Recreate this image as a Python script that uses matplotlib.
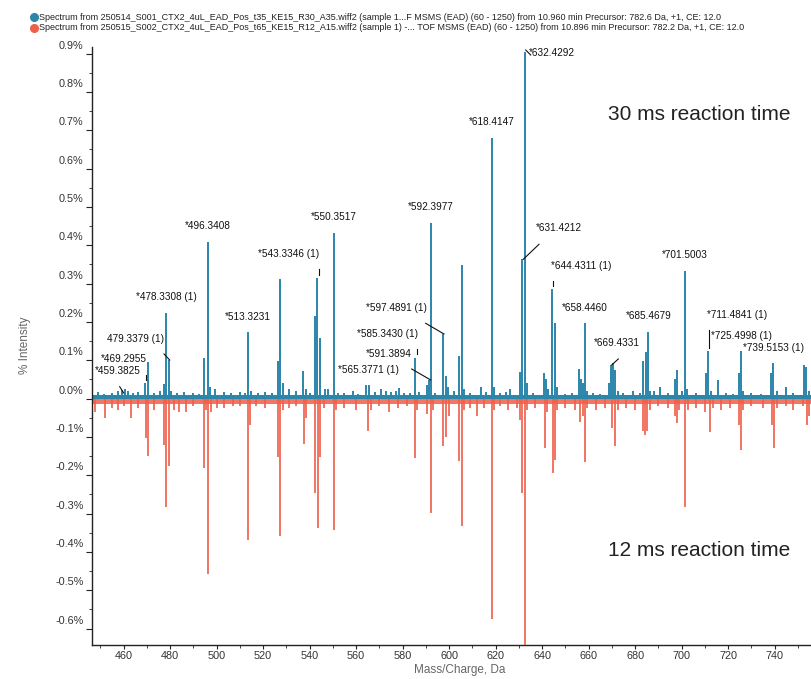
import matplotlib
matplotlib.use('Agg')
import matplotlib.pyplot as plt
from matplotlib.lines import Line2D
import matplotlib.transforms as mtransforms
from matplotlib.ticker import MultipleLocator, FuncFormatter

# ---------------- data ----------------
blue_mz = [449.0, 451.5, 455.0, 457.5, 459.38, 460.5, 462.0, 464.0, 466.0, 469.30, 470.3, 473.0,
           475.5, 477.3, 478.33, 479.34, 480.3, 483.0, 486.0, 490.0, 492.5, 494.5, 496.34, 497.3,
           499.5, 503.0, 506.0, 510.0, 512.0, 513.32, 515.0, 518.0, 521.0, 524.0, 526.3, 527.4,
           528.4, 531.0, 534.0, 537.3, 538.4, 540.0, 542.3, 543.33, 544.3, 546.5, 548.0, 550.35,
           552.0, 555.0, 558.5, 561.0, 564.3, 565.38, 568.0, 570.5, 573.0, 575.0, 577.0, 578.4,
           580.5, 583.0, 585.34, 587.0, 590.4, 591.39, 592.40, 594.0, 597.49, 598.5, 599.5, 602.0,
           604.4, 605.5, 606.5, 609.0, 613.5, 616.0, 618.41, 619.5, 622.0, 624.5, 626.4, 630.4,
           631.42, 632.43, 633.4, 636.0, 640.6, 641.6, 642.6, 644.43, 645.5, 646.6, 650.0, 653.0,
           655.7, 656.7, 657.5, 658.45, 659.5, 662.0, 665.0, 668.6, 669.43, 670.4, 671.5, 672.5,
           675.0, 679.0, 682.0, 683.5, 684.6, 685.47, 686.6, 688.0, 690.5, 694.0, 697.3, 698.2,
           700.0, 701.50, 702.5, 706.0, 710.5, 711.48, 712.5, 715.8, 719.0, 722.0, 724.5, 725.50,
           726.5, 730.0, 734.0, 738.5, 739.52, 741.0, 744.8, 748.0, 752.7, 753.6, 755.0]
blue_int = [0.018, 0.012, 0.015, 0.020, 0.022, 0.025, 0.020, 0.015, 0.018, 0.041, 0.096, 0.015,
            0.020, 0.039, 0.224, 0.100, 0.020, 0.015, 0.018, 0.015, 0.012, 0.107, 0.408, 0.030,
            0.025, 0.018, 0.015, 0.018, 0.015, 0.173, 0.020, 0.015, 0.018, 0.015, 0.098, 0.312,
            0.040, 0.025, 0.020, 0.073, 0.025, 0.015, 0.214, 0.315, 0.159, 0.025, 0.025, 0.432,
            0.015, 0.015, 0.020, 0.012, 0.035, 0.035, 0.018, 0.025, 0.020, 0.018, 0.020, 0.028,
            0.015, 0.015, 0.107, 0.018, 0.034, 0.049, 0.457, 0.015, 0.168, 0.060, 0.030, 0.020,
            0.111, 0.348, 0.025, 0.015, 0.030, 0.018, 0.680, 0.030, 0.015, 0.018, 0.025, 0.070,
            0.363, 0.905, 0.040, 0.015, 0.066, 0.050, 0.025, 0.285, 0.196, 0.030, 0.012, 0.015,
            0.078, 0.050, 0.040, 0.198, 0.020, 0.015, 0.012, 0.040, 0.087, 0.092, 0.074, 0.020,
            0.015, 0.020, 0.015, 0.099, 0.122, 0.174, 0.020, 0.020, 0.030, 0.015, 0.050, 0.074,
            0.020, 0.332, 0.025, 0.015, 0.067, 0.123, 0.020, 0.048, 0.015, 0.012, 0.067, 0.124,
            0.020, 0.015, 0.012, 0.066, 0.092, 0.020, 0.030, 0.015, 0.087, 0.083, 0.020]

red_mz = [447.5, 452.2, 455.0, 457.5, 460.0, 463.1, 466.0, 469.7, 470.3, 473.0, 477.5, 478.4,
          479.4, 481.5, 484.0, 487.0, 490.0, 494.5, 495.3, 496.3, 497.5, 500.0, 503.0, 507.0,
          510.0, 513.3, 514.3, 517.0, 521.0, 526.2, 527.4, 528.4, 531.0, 534.0, 537.4, 538.5,
          542.3, 543.4, 544.4, 546.0, 550.4, 551.5, 555.0, 560.0, 565.3, 566.3, 570.0, 574.0,
          578.0, 582.0, 585.2, 586.3, 590.5, 592.2, 593.2, 597.5, 598.5, 600.0, 604.3, 605.4,
          606.5, 609.0, 612.0, 615.0, 618.4, 619.5, 622.0, 625.5, 629.0, 630.5, 631.5, 632.5,
          633.5, 637.0, 641.3, 642.2, 644.6, 645.6, 646.6, 650.0, 654.0, 656.5, 657.5, 658.5,
          659.5, 663.0, 667.0, 670.0, 671.5, 672.5, 676.0, 680.0, 683.4, 684.3, 685.2, 686.5,
          690.0, 694.0, 697.0, 698.0, 699.0, 701.6, 702.6, 706.0, 710.0, 712.1, 713.5, 717.0,
          721.0, 724.5, 725.6, 726.5, 730.0, 735.0, 738.8, 739.9, 741.0, 745.0, 748.0, 752.0,
          753.9, 754.8]
red_int = [-0.034, -0.050, -0.025, -0.030, -0.020, -0.052, -0.025, -0.104, -0.149, -0.030, -0.120, -0.282,
           -0.175, -0.030, -0.035, -0.035, -0.020, -0.180, -0.030, -0.458, -0.035, -0.025, -0.025, -0.020,
           -0.020, -0.369, -0.070, -0.020, -0.025, -0.152, -0.359, -0.030, -0.025, -0.020, -0.119, -0.050,
           -0.247, -0.339, -0.153, -0.025, -0.343, -0.030, -0.025, -0.030, -0.085, -0.030, -0.020, -0.035,
           -0.025, -0.020, -0.156, -0.030, -0.040, -0.298, -0.030, -0.124, -0.100, -0.045, -0.163, -0.332,
           -0.030, -0.025, -0.045, -0.025, -0.576, -0.030, -0.020, -0.030, -0.025, -0.055, -0.246, -0.670,
           -0.030, -0.025, -0.128, -0.035, -0.195, -0.161, -0.030, -0.025, -0.030, -0.060, -0.045, -0.165,
           -0.025, -0.030, -0.025, -0.078, -0.124, -0.030, -0.025, -0.030, -0.086, -0.095, -0.086, -0.030,
           -0.020, -0.025, -0.045, -0.065, -0.030, -0.282, -0.030, -0.025, -0.035, -0.088, -0.025, -0.030,
           -0.025, -0.070, -0.134, -0.030, -0.020, -0.025, -0.070, -0.130, -0.025, -0.020, -0.030, -0.020,
           -0.070, -0.045]

peak_labels = ["*459.3825", "*469.2955", "479.3379 (1)", "*478.3308 (1)", "*496.3408", "*513.3231",
               "*543.3346 (1)", "*550.3517", "*592.3977", "*597.4891 (1)", "*585.3430 (1)",
               "*591.3894", "*565.3771 (1)", "*618.4147", "*632.4292", "*631.4212",
               "*644.4311 (1)", "*658.4460", "*669.4331", "*685.4679", "*701.5003",
               "*711.4841 (1)", "*725.4998 (1)", "*739.5153 (1)"]

x_ticks = [460, 480, 500, 520, 540, 560, 580, 600, 620, 640, 660, 680, 700, 720, 740]
y_ticks = [-0.6, -0.5, -0.4, -0.3, -0.2, -0.1, 0.0, 0.1, 0.2, 0.3, 0.4, 0.5, 0.6, 0.7, 0.8, 0.9]

legend_texts = [
    "Spectrum from 250514_S001_CTX2_4uL_EAD_Pos_t35_KE15_R30_A35.wiff2 (sample 1...F MSMS (EAD) (60 - 1250) from 10.960 min Precursor: 782.6 Da, +1, CE: 12.0",
    "Spectrum from 250515_S002_CTX2_4uL_EAD_Pos_t65_KE15_R12_A15.wiff2 (sample 1) -... TOF MSMS (EAD) (60 - 1250) from 10.896 min Precursor: 782.2 Da, +1, CE: 12.0",
]

# ---------------- layout (pixel positions in the 811x679 image) ----------------
W, H = 811, 679
BLUE = '#2B86AA'
RED = '#EF5E48'
FONT = ['Liberation Sans', 'DejaVu Sans']

label_pos = [(94.7, 371), (101, 359.3), (107, 339), (136, 297.3), (185, 226), (224.7, 316.7),
             (258, 254), (310.7, 217.3), (408, 207.3), (365.7, 307.7), (356.7, 334),
             (366, 354), (338, 370), (469.3, 122.3), (529, 52.7), (536, 228.3),
             (551, 265.7), (562.3, 307.7), (594.3, 343.3), (625.7, 316), (662.3, 255),
             (706.7, 315), (710.7, 336), (743.3, 348.3)]
leader_lines = [((119.7, 386.7), (123.7, 393)), ((146.3, 375), (146.3, 380)),
                ((164, 354), (169.7, 360)), ((318.7, 269), (318.7, 275)),
                ((425.7, 323.3), (444, 334)), ((416.7, 349), (416.7, 354)),
                ((411.7, 369), (430.7, 380)), ((525.7, 50), (530.7, 55)),
                ((539, 244.3), (523.3, 259.3)), ((553.3, 281), (553.3, 286)),
                ((611.7, 365), (618.3, 359)), ((709.3, 330), (709.3, 348.3))]

AX_L, AX_R, AX_T, AX_B = 92, 811, 47, 645

fig = plt.figure(figsize=(W / 100, H / 100), dpi=100)
ax = fig.add_axes([AX_L / W, 1 - AX_B / H, (AX_R - AX_L) / W, (AX_B - AX_T) / H])


def axfrac(px, py):
    return (px - AX_L) / (AX_R - AX_L), (AX_B - py) / (AX_B - AX_T)


ax.set_xlim(446.4, 755.65)
ax.set_ylim(-0.643, 0.917)

# baseline noise bands
ax.fill_between([446.4, 755.65], 0, 0.009, color=BLUE, lw=0, zorder=2)
ax.fill_between([446.4, 755.65], -0.013, 0, color=RED, alpha=0.85, lw=0, zorder=2)

ax.vlines(red_mz, 0, red_int, color=RED, lw=1.2, zorder=3)
ax.vlines(blue_mz, 0, blue_int, color=BLUE, lw=1.4, zorder=4)

for txt, (px, py) in zip(peak_labels, label_pos):
    fx, fy = axfrac(px, py)
    ax.text(fx, fy, txt, transform=ax.transAxes, ha='left', va='center',
            fontsize=7.2, family=FONT, color='#111111', zorder=6)
for (p0, p1) in leader_lines:
    a0 = axfrac(*p0)
    a1 = axfrac(*p1)
    ax.add_line(Line2D([a0[0], a1[0]], [a0[1], a1[1]], transform=ax.transAxes,
                       color='#111111', lw=0.8, zorder=6))

fx, fy = axfrac(608, 115)
ax.text(fx, fy, "30 ms reaction time", transform=ax.transAxes, ha='left', va='center',
        fontsize=15, family=FONT, color='#222222')
fx, fy = axfrac(608, 550)
ax.text(fx, fy, "12 ms reaction time", transform=ax.transAxes, ha='left', va='center',
        fontsize=15, family=FONT, color='#222222')

# axes styling
for s in ['top', 'right']:
    ax.spines[s].set_visible(False)
for s in ['left', 'bottom']:
    ax.spines[s].set_color('#222222')
    ax.spines[s].set_linewidth(1.0)

ax.set_xticks(x_ticks)
ax.set_yticks(y_ticks)
ax.xaxis.set_minor_locator(MultipleLocator(10))
ax.yaxis.set_minor_locator(MultipleLocator(0.05))


def yfmt(v, pos):
    if abs(v) < 1e-9:
        return "0.0%"
    return f"{v:.1f}%"


ax.yaxis.set_major_formatter(FuncFormatter(yfmt))
ax.tick_params(axis='y', which='major', length=4, width=0.8, color='#222222',
               labelsize=7.8, labelcolor='#333333', pad=2)
ax.tick_params(axis='x', which='major', length=3, width=0.8, color='#222222',
               labelsize=7.8, labelcolor='#333333', pad=1)
ax.tick_params(axis='both', which='minor', length=2, width=0.6, color='#222222')
for lab in ax.get_xticklabels() + ax.get_yticklabels():
    lab.set_family(FONT)
offset = mtransforms.ScaledTranslation(0, 9 / 100, fig.dpi_scale_trans)
for lab in ax.get_yticklabels():
    lab.set_transform(lab.get_transform() + offset)

fig.text(25 / W, 1 - 345 / H, "% Intensity", rotation=90, ha='center', va='center',
         fontsize=8.5, family=FONT, color='#666666')
fig.text(460 / W, 1 - 670 / H, "Mass/Charge, Da", ha='center', va='center',
         fontsize=8.5, family=FONT, color='#666666')

# legend
for i, (txt, col) in enumerate(zip(legend_texts, [BLUE, RED])):
    y = 1 - (17 + 11 * i) / H
    fig.add_artist(Line2D([34 / W], [y], marker='o', markersize=5.5, color=col,
                          transform=fig.transFigure, linestyle='none'))
    fig.text(39 / W, y, txt, ha='left', va='center', fontsize=6.5, family=FONT,
             color='#222222')

fig.savefig('out.png', dpi=100)
